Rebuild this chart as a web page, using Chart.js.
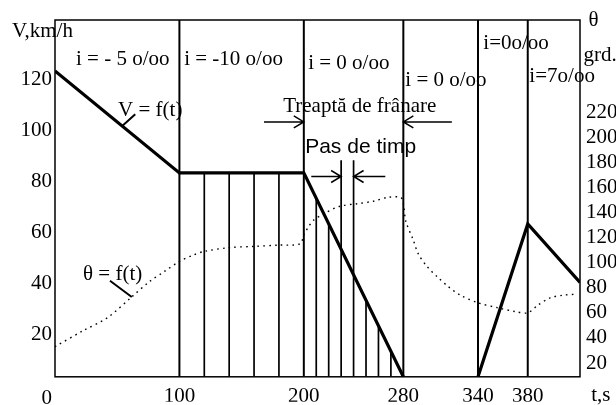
<!DOCTYPE html>
<html>
<head>
<meta charset="utf-8">
<script src="https://cdn.jsdelivr.net/npm/chart.js@4.4.1/dist/chart.umd.min.js"></script>
<style>
  html, body { margin: 0; padding: 0; background: #fff; }
</style>
</head>
<body>
<canvas id="chart" width="616" height="405"></canvas>
<script>
// axes
const timeTicks = [100, 200, 280, 340, 380];
const speedTicks = [0, 20, 40, 60, 80, 100, 120];
const tempTicks = [20, 40, 60, 80, 100, 120, 140, 160, 180, 200, 220];

// V = f(t), km/h (null = no line between 280 and 340)
const speedT = [0, 100, 200, 280, 310, 340, 380, 422];
const speedV = [120, 80, 80, 0, null, 0, 60, 37];

// theta = f(t), grd.
const thetaT = [0, 23, 42, 62, 76, 88, 100, 111, 120, 140, 160, 180, 197,
                200, 204, 208, 216, 229, 243, 256, 267, 278, 280, 282, 288, 292,
                299, 307, 316, 326, 340, 356, 370, 380, 388, 398, 408, 420];
const thetaV = [33, 46, 56, 73, 85, 93, 101, 106, 109, 112, 113, 114, 115,
                122, 129, 134, 139, 145, 147, 149, 152, 152, 147, 133, 118, 107,
                97, 89, 81, 74, 68, 64, 61, 60, 66, 72, 74, 75];

// time steps (thin verticals) and their top value on the V scale
const stepT = [120, 140, 160, 180, 210, 220, 230, 240, 250, 260, 270];
const stepTop = [80, 80, 80, 80, 70, 60, 85, 85, 30, 20, 10];

// section boundaries (full height verticals)
const boundT = [100, 200, 280, 340, 380];

const T_MAX = 422;
const V_MAX = 140;

function verticals(ts, tops) {
    const pts = [];
    ts.forEach((t, i) => {
        pts.push({ x: t, y: 0 }, { x: t, y: tops[i] }, { x: t, y: null });
    });
    return pts;
}

const serif = '21px "Liberation Serif"';
const sans = '21px "Liberation Sans"';

// annotations: text, t, V (left scale units), font
const notes = [
    ["V,km/h", -34.5, 133.4, serif],
    ["i = - 5 o/oo", 16.9, 122.5, serif],
    ["i = -10 o/oo", 103.8, 122.5, serif],
    ["i = 0 o/oo", 203.5, 120.6, serif],
    ["i = 0 o/oo", 281.6, 114, serif],
    ["i=0o/oo", 344.3, 128.7, serif],
    ["i=7o/oo", 381.3, 115.5, serif],
    ["θ", 428.8, 137.7, serif],
    ["grd.", 424.8, 124, serif],
    ["Treaptă de frânare", 183.4, 103.8, serif],
    ["Pas de timp", 201.1, 87.9, sans],
    ["V = f(t)", 50.7, 102.3, serif],
    ["θ = f(t)", 22.5, 38.1, serif],
    ["t,s", 431, -9.5, serif],
];

function arrow(ctx, x1, y1, x2, y2) {
    const dir = Math.sign(x2 - x1);
    ctx.beginPath();
    ctx.moveTo(x1, y1);
    ctx.lineTo(x2, y2);
    ctx.moveTo(x2 - dir * 10, y2 - 6);
    ctx.lineTo(x2, y2);
    ctx.lineTo(x2 - dir * 10, y2 + 6);
    ctx.stroke();
}

const drawing = {
    id: "drawing",
    afterDraw(chart) {
        const { ctx, chartArea: a } = chart;
        const sx = chart.scales.x, sy = chart.scales.y;
        const px = (t) => sx.getPixelForValue(t);
        const py = (v) => sy.getPixelForValue(v);
        ctx.save();
        ctx.strokeStyle = "#000";
        ctx.lineWidth = 1.5;
        ctx.strokeRect(a.left, a.top, a.right - a.left, a.bottom - a.top);

        // braking stage arrows
        arrow(ctx, px(168), py(100), px(200), py(100));
        arrow(ctx, px(319), py(100), px(280), py(100));
        // time step arrows
        arrow(ctx, px(206), py(78.6), px(230), py(78.6));
        arrow(ctx, px(265.5), py(78.6), px(240), py(78.6));

        // pointers
        ctx.lineWidth = 2;
        ctx.beginPath();
        ctx.moveTo(px(54), py(98.4));
        ctx.lineTo(px(64.5), py(103));
        ctx.moveTo(px(44.2), py(37.7));
        ctx.lineTo(px(61.7), py(31.3));
        ctx.stroke();

        ctx.fillStyle = "#000";
        ctx.textBaseline = "alphabetic";
        ctx.textAlign = "left";
        notes.forEach(([txt, t, v, font]) => {
            ctx.font = font;
            ctx.fillText(txt, px(t), py(v));
        });
        ctx.restore();
    }
};

const ctx = document.getElementById("chart").getContext("2d");
new Chart(ctx, {
    type: "line",
    plugins: [drawing],
    data: {
        datasets: [
            {
                label: "bounds",
                data: verticals(boundT, boundT.map(() => V_MAX)),
                borderColor: "#000",
                borderWidth: 2,
                pointRadius: 0,
                spanGaps: false,
                yAxisID: "y",
            },
            {
                label: "steps",
                data: verticals(stepT, stepTop),
                borderColor: "#000",
                borderWidth: 1.7,
                pointRadius: 0,
                spanGaps: false,
                yAxisID: "y",
            },
            {
                label: "theta",
                data: thetaT.map((t, i) => ({ x: t, y: thetaV[i] })),
                borderColor: "#000",
                borderWidth: 1.4,
                borderDash: [1.6, 4.2],
                pointRadius: 0,
                tension: 0.3,
                yAxisID: "y1",
            },
            {
                label: "V",
                data: speedT.map((t, i) => ({ x: t, y: speedV[i] })),
                borderColor: "#000",
                borderWidth: 3.2,
                pointRadius: 0,
                spanGaps: false,
                yAxisID: "y",
            },
        ],
    },
    options: {
        responsive: false,
        animation: false,
        layout: { padding: { top: 20, left: 0, right: 0, bottom: 0 } },
        plugins: {
            legend: { display: false },
            tooltip: { enabled: false },
        },
        scales: {
            x: {
                type: "linear",
                min: 0,
                max: T_MAX,
                grid: { display: false, drawTicks: false },
                border: { display: false },
                afterBuildTicks: (s) => { s.ticks = timeTicks.map((v) => ({ value: v })); },
                afterFit: (s) => { s.height = 25; },
                ticks: {
                    color: "#000",
                    padding: 7,
                    maxRotation: 0,
                    font: { family: "Liberation Serif", size: 21 },
                },
            },
            y: {
                type: "linear",
                position: "left",
                min: 0,
                max: V_MAX,
                grid: { display: false, drawTicks: false },
                border: { display: false },
                afterBuildTicks: (s) => { s.ticks = speedTicks.map((v) => ({ value: v })); },
                afterFit: (s) => { s.width = 55; },
                ticks: {
                    color: "#000",
                    padding: 3,
                    labelOffset: 9,
                    // the zero sits lower, below the axis corner
                    callback: (v) => (v === 0 ? ["", "0"] : String(v)),
                    font: { family: "Liberation Serif", size: 21 },
                },
            },
            y1: {
                type: "linear",
                position: "right",
                min: 9,
                max: 293.5,
                grid: { display: false, drawTicks: false },
                border: { display: false },
                afterBuildTicks: (s) => { s.ticks = tempTicks.map((v) => ({ value: v })); },
                afterFit: (s) => { s.width = 36; },
                ticks: {
                    color: "#000",
                    padding: 6,
                    font: { family: "Liberation Serif", size: 21 },
                },
            },
        },
    },
});
</script>
</body>
</html>
